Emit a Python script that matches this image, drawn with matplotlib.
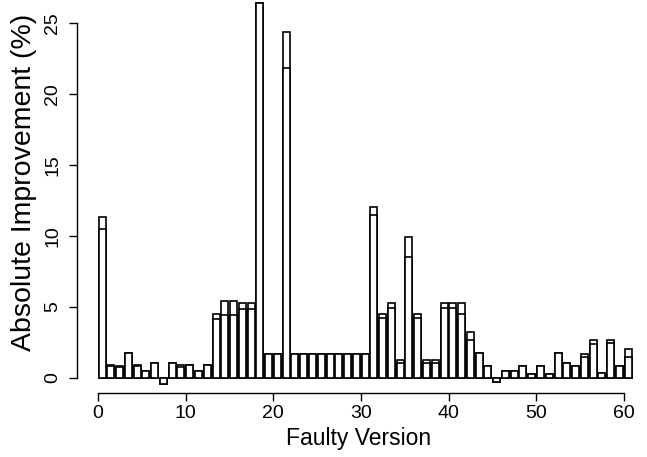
import numpy as np
import matplotlib.pyplot as plt

plt.rcParams['font.family'] = ['Liberation Sans', 'DejaVu Sans']

# faulty versions 0..60, two overlaid results per version
versions = np.arange(61)
outer = [11.36, 0.89, 0.85, 1.76, 0.94, 0.47, 1.08, -0.44, 1.08, 0.9,
         0.92, 0.51, 0.92, 4.5, 5.42, 5.42, 5.3, 5.3, 26.43, 1.72,
         1.72, 24.37, 1.72, 1.72, 1.72, 1.72, 1.72, 1.72, 1.72, 1.72,
         1.72, 12.06, 4.5, 5.3, 1.27, 9.9, 4.5, 1.27, 1.27, 5.3,
         5.3, 5.3, 3.26, 1.76, 0.85, -0.26, 0.49, 0.49, 0.82, 0.26,
         0.82, 0.25, 1.76, 1.08, 0.82, 1.67, 2.68, 0.37, 2.68, 0.82,
         2.02]
inner = [10.5, 0.85, 0.75, 1.76, 0.85, 0.47, 1.08, -0.44, 1.08, 0.8,
         0.92, 0.51, 0.92, 4.18, 4.44, 4.44, 4.86, 4.86, 26.43, 1.72,
         1.72, 21.83, 1.72, 1.72, 1.72, 1.72, 1.72, 1.72, 1.72, 1.72,
         1.72, 11.5, 4.2, 4.9, 1.03, 8.54, 4.2, 1.03, 1.03, 4.9,
         4.9, 4.5, 2.68, 1.76, 0.85, -0.26, 0.49, 0.49, 0.82, 0.26,
         0.82, 0.25, 1.76, 1.08, 0.82, 1.48, 2.39, 0.37, 2.49, 0.82,
         1.46]

fig = plt.figure(figsize=(6.47, 4.57), dpi=100)
ax = fig.add_axes([77/647, 1 - 393/457, (640 - 77)/647, 393/457])

xpos = versions + 0.47
ax.bar(xpos, outer, width=0.8, color='white', edgecolor='black', linewidth=1.2)
ax.bar(xpos, inner, width=0.8, color='white', edgecolor='black', linewidth=1.2)

ax.set_xlim(-2.39, 61.82)
ax.set_ylim(-1.056, 26.62)

for s in ['top', 'right']:
    ax.spines[s].set_visible(False)
ax.spines['left'].set_bounds(0, 25)
ax.spines['bottom'].set_bounds(0, 60)
ax.spines['left'].set_linewidth(1.0)
ax.spines['bottom'].set_linewidth(1.0)

ax.set_xticks(range(0, 61, 10))
ax.set_yticks(range(0, 26, 5))
ax.tick_params(direction='out', length=5.5, width=1.0, labelsize=14)
ax.tick_params(axis='x', pad=3)
ax.tick_params(axis='y', pad=6)
for lab in ax.get_yticklabels():
    lab.set_rotation(90)
    lab.set_va('center')

ax.set_xlabel('Faulty Version', fontsize=16.5, labelpad=4)
ax.set_ylabel('Absolute Improvement (%)', fontsize=20.5)
ax.yaxis.set_label_coords(-0.071, 0.537)

fig.savefig('out.png', dpi=100)
